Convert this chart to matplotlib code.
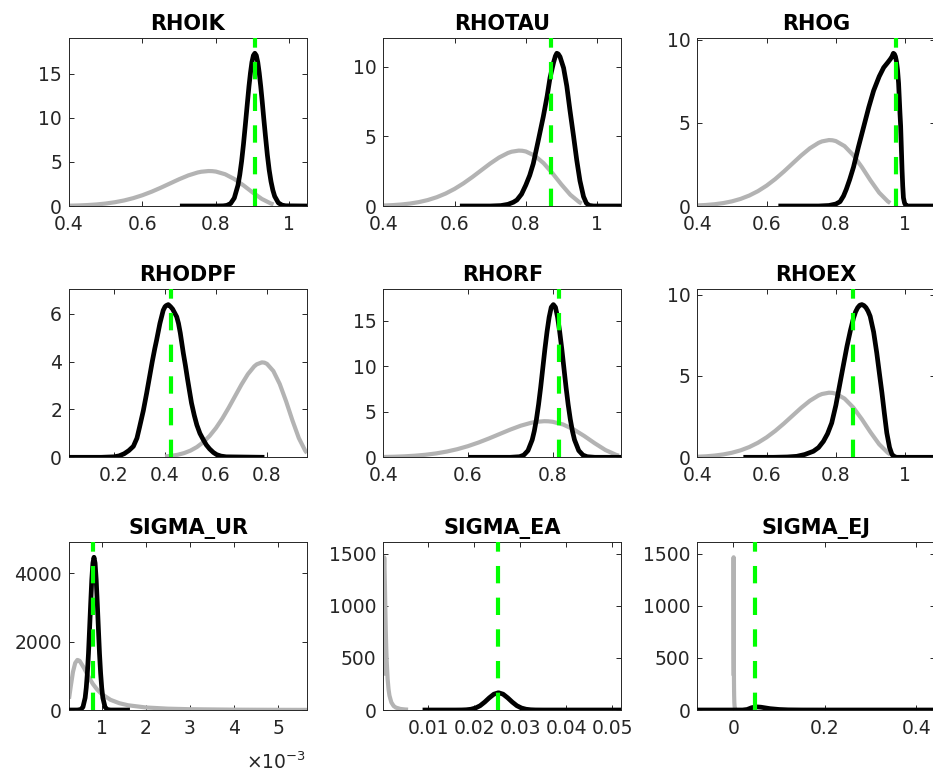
import matplotlib
matplotlib.use("Agg")
import matplotlib.pyplot as plt
from matplotlib.ticker import FuncFormatter

plt.rcParams['font.family'] = ['DejaVu Sans']
plt.rcParams['lines.scale_dashes'] = False

# ---------------- data ----------------
titles = ["RHOIK", "RHOTAU", "RHOG", "RHODPF", "RHORF", "RHOEX",
          "SIGMA_UR", "SIGMA_EA", "SIGMA_EJ"]

# common beta prior (rho parameters)
prior_rho_x = [0.40, 0.425, 0.45, 0.475, 0.50, 0.525, 0.55, 0.575, 0.60, 0.625, 0.65,
               0.675, 0.70, 0.725, 0.75, 0.76, 0.78, 0.79, 0.80, 0.825, 0.85, 0.875,
               0.90, 0.925, 0.95, 0.957]
prior_rho_y = [0.034, 0.061, 0.106, 0.176, 0.280, 0.428, 0.630, 0.894, 1.226, 1.624, 2.077,
               2.561, 3.044, 3.477, 3.804, 3.891, 3.972, 3.960, 3.910, 3.609, 3.068, 2.343,
               1.539, 0.802, 0.276, 0.180]

# common inverse-gamma prior (sigma parameters)
prior_sig_x = [0.26e-3, 0.30e-3, 0.35e-3, 0.40e-3, 0.45e-3, 0.50e-3, 0.60e-3, 0.70e-3,
               0.80e-3, 0.90e-3, 1.0e-3, 1.2e-3, 1.4e-3, 1.6e-3, 2.0e-3, 2.5e-3, 3.0e-3,
               4.0e-3, 5.0e-3, 5.65e-3]
prior_sig_y = [329, 693, 1116, 1375, 1466, 1440, 1229, 979, 764, 595, 468, 298, 199, 138,
               74, 39, 23, 9.8, 5.1, 3.5]

post_rhoik_x = [0.702, 0.80, 0.82, 0.83, 0.84, 0.85, 0.86, 0.865, 0.87, 0.875, 0.88, 0.885,
                0.89, 0.894, 0.898, 0.902, 0.906, 0.910, 0.914, 0.918, 0.922, 0.926, 0.93,
                0.935, 0.94, 0.945, 0.95, 0.955, 0.96, 0.97, 0.98, 0.99, 1.048]
post_rhoik_y = [0, 0, 0.016, 0.074, 0.28, 0.90, 2.35, 3.55, 5.10, 7.0, 9.16, 11.4,
                13.6, 15.1, 16.33, 17.1, 17.35, 17.1, 16.33, 15.1, 13.6, 11.9, 10.07,
                7.9, 5.82, 4.1, 2.78, 1.8, 1.10, 0.36, 0.098, 0.022, 0]

post_rhotau_x = [0.615, 0.70, 0.73, 0.75, 0.765, 0.775, 0.788, 0.80, 0.811, 0.821, 0.835,
                 0.849, 0.860, 0.868, 0.878, 0.883, 0.887, 0.891, 0.896, 0.906, 0.915,
                 0.924, 0.934, 0.943, 0.952, 0.962, 0.970, 0.978, 0.99, 1.068]
post_rhotau_y = [0, 0, 0.03, 0.12, 0.27, 0.43, 0.85, 1.5, 2.2, 3.04, 4.7, 6.4, 7.9, 9.2,
                 10.3, 10.75, 10.95, 10.9, 10.7, 9.9, 8.6, 6.84, 5.0, 3.28, 1.8, 0.67,
                 0.2, 0.04, 0, 0]

post_rhog_x = [0.634, 0.75, 0.78, 0.80, 0.812, 0.822, 0.83, 0.84, 0.851, 0.865, 0.880,
               0.895, 0.909, 0.925, 0.938, 0.950, 0.957, 0.962, 0.966, 0.969, 0.972,
               0.975, 0.978, 0.981, 0.983, 0.985, 0.987, 0.989, 0.991, 0.993, 0.995,
               0.998, 1.0, 1.005, 1.087]
post_rhog_y = [0, 0, 0.03, 0.12, 0.26, 0.6, 1.0, 1.6, 2.35, 3.55, 4.75, 5.95, 6.95, 7.8,
               8.34, 8.65, 8.84, 9.0, 9.2, 9.15, 9.0, 8.7, 8.2, 7.4, 6.5, 5.6, 4.8, 3.5,
               2.2, 1.2, 0.5, 0.2, 0.1, 0, 0]

post_rhodpf_x = [0.0235, 0.15, 0.20, 0.22, 0.24, 0.258, 0.276, 0.29, 0.30, 0.315, 0.328,
                 0.34, 0.35, 0.36, 0.367, 0.38, 0.393, 0.400, 0.405, 0.413, 0.422, 0.430,
                 0.435, 0.446, 0.453, 0.46, 0.472, 0.48, 0.488, 0.496, 0.504, 0.515,
                 0.525, 0.537, 0.55, 0.562, 0.575, 0.59, 0.603, 0.62, 0.64, 0.79]
post_rhodpf_y = [0, 0, 0.02, 0.06, 0.15, 0.28, 0.46, 0.8, 1.25, 1.95, 2.68, 3.4, 4.0,
                 4.55, 4.9, 5.6, 6.15, 6.3, 6.35, 6.39, 6.3, 6.2, 6.1, 5.88, 5.6, 5.2,
                 4.35, 3.85, 3.3, 2.78, 2.27, 1.75, 1.35, 1.0, 0.74, 0.52, 0.35, 0.2,
                 0.11, 0.05, 0.02, 0]

post_rhorf_x = [0.601, 0.70, 0.722, 0.732, 0.742, 0.752, 0.757, 0.762, 0.767, 0.772,
                0.777, 0.782, 0.787, 0.792, 0.797, 0.802, 0.807, 0.812, 0.817, 0.822,
                0.827, 0.832, 0.837, 0.842, 0.847, 0.852, 0.862, 0.872, 0.882, 0.90,
                0.9626]
post_rhorf_y = [0, 0, 0.065, 0.24, 0.74, 1.92, 2.9, 4.19, 5.8, 7.69, 9.8, 11.9, 13.8,
                15.4, 16.5, 16.8, 16.5, 15.4, 13.8, 11.9, 9.8, 7.69, 5.8, 4.19, 2.9,
                1.92, 0.74, 0.24, 0.065, 0, 0]

post_rhoex_x = [0.533, 0.62, 0.66, 0.687, 0.71, 0.735, 0.75, 0.764, 0.776, 0.788, 0.80,
                0.812, 0.822, 0.832, 0.842, 0.851, 0.857, 0.863, 0.869, 0.875, 0.881,
                0.887, 0.893, 0.899, 0.909, 0.918, 0.926, 0.933, 0.940, 0.947, 0.955,
                0.962, 0.97, 0.976, 1.087]
post_rhoex_y = [0, 0, 0.02, 0.06, 0.17, 0.37, 0.6, 0.98, 1.45, 2.11, 3.2, 4.57, 5.7, 6.82,
                7.8, 8.57, 8.95, 9.2, 9.35, 9.39, 9.33, 9.2, 8.98, 8.67, 7.7, 6.42, 5.1,
                3.96, 2.7, 1.5, 0.6, 0.17, 0.03, 0, 0]

post_ur_x = [0.26e-3, 0.45e-3, 0.526e-3, 0.576e-3, 0.626e-3, 0.651e-3, 0.676e-3,
             0.701e-3, 0.726e-3, 0.751e-3, 0.776e-3, 0.801e-3, 0.826e-3, 0.851e-3,
             0.876e-3, 0.901e-3, 0.926e-3, 0.951e-3, 0.976e-3, 1.001e-3, 1.026e-3,
             1.076e-3, 1.126e-3, 1.20e-3, 1.64e-3]
post_ur_y = [0, 0, 15, 86, 358, 653, 1080, 1650, 2378, 3120, 3818, 4300, 4471, 4300, 3818,
             3120, 2378, 1650, 1080, 653, 358, 86, 15, 0, 0]

post_ea_x = [0.0088, 0.016, 0.0173, 0.0183, 0.0193, 0.0203, 0.0213, 0.0223, 0.0233, 0.0243,
             0.0253, 0.0263, 0.0273, 0.0283, 0.0293, 0.0303, 0.0313, 0.0323, 0.0333,
             0.035, 0.052]
post_ea_y = [0, 0, 0.6, 2.4, 7.3, 19, 41, 76, 117, 152, 166, 152, 117, 76, 41, 19, 7.3,
             2.4, 0.6, 0, 0]

post_ej_x = [-0.079, 0.02, 0.03, 0.04, 0.05, 0.06, 0.07, 0.08, 0.10, 0.12, 0.15, 0.20, 0.4416]
post_ej_y = [0, 0, 5, 22, 30, 27, 20, 13, 5, 1.5, 0.2, 0, 0]

modes = [0.906, 0.871, 0.974, 0.4235, 0.815, 0.848, 0.80e-3, 0.0253, 0.0469]

priors = [(prior_rho_x, prior_rho_y)] * 6 + [(prior_sig_x, prior_sig_y)] * 3
posts = [(post_rhoik_x, post_rhoik_y), (post_rhotau_x, post_rhotau_y),
         (post_rhog_x, post_rhog_y), (post_rhodpf_x, post_rhodpf_y),
         (post_rhorf_x, post_rhorf_y), (post_rhoex_x, post_rhoex_y),
         (post_ur_x, post_ur_y), (post_ea_x, post_ea_y), (post_ej_x, post_ej_y)]

xticks = [[0.4, 0.6, 0.8, 1], [0.4, 0.6, 0.8, 1], [0.4, 0.6, 0.8, 1],
          [0.2, 0.4, 0.6, 0.8], [0.4, 0.6, 0.8], [0.4, 0.6, 0.8, 1],
          [1e-3, 2e-3, 3e-3, 4e-3, 5e-3], [0.01, 0.02, 0.03, 0.04, 0.05], [0, 0.2, 0.4]]
yticks = [[0, 5, 10, 15], [0, 5, 10], [0, 5, 10], [0, 2, 4, 6], [0, 5, 10, 15],
          [0, 5, 10], [0, 2000, 4000], [0, 500, 1000, 1500], [0, 500, 1000, 1500]]
ur_labels = ['1', '2', '3', '4', '5']
ur_exponent = r'$\times\mathdefault{10^{-3}}$'

# ---------------- layout ----------------
W, H = 933, 781
fig = plt.figure(figsize=(W / 100, H / 100), dpi=100)
col_left = [69, 383.3, 697.3]
row_top = [38, 289.3, 542]
aw, ah = 238, 168

txt_col = '#262626'
for i in range(9):
    r, c = divmod(i, 3)
    ax = fig.add_axes([col_left[c] / W, 1 - (row_top[r] + ah) / H, aw / W, ah / H])
    px, py = priors[i]
    qx, qy = posts[i]
    ax.plot(px, py, color='#b3b3b3', lw=3.0, solid_joinstyle='round',
            solid_capstyle='butt', zorder=2)
    ax.plot(qx, qy, color='black', lw=3.4, solid_joinstyle='round',
            solid_capstyle='butt', zorder=3)
    ymax = 1.1 * max(max(py), max(qy))
    ax.plot([modes[i], modes[i]], [0, ymax], color='#00ff00', lw=3.0,
            dashes=(12.5, 10.3), zorder=4)
    ax.set_xlim(min(min(px), min(qx)), max(max(px), max(qx)))
    ax.set_ylim(0, ymax)
    ax.set_xticks(xticks[i])
    ax.set_yticks(yticks[i])
    if i == 6:
        ax.set_xticklabels(ur_labels)
        ax.text(0.995, -0.245, ur_exponent, transform=ax.transAxes, ha='right',
                va='top', fontsize=13.5, color=txt_col)
    else:
        ax.xaxis.set_major_formatter(FuncFormatter(lambda v, p: f'{v:g}'))
    ax.yaxis.set_major_formatter(FuncFormatter(lambda v, p: f'{v:g}'))
    ax.tick_params(direction='in', length=3.5, width=0.7, top=True, right=True,
                   labelsize=13.5, colors=txt_col, pad=5)
    ax.tick_params(axis='x', pad=6.5)
    for s in ax.spines.values():
        s.set_color(txt_col)
        s.set_linewidth(0.7)
    ax.set_title(titles[i], fontsize=15, fontweight='bold', pad=6)

fig.savefig('out.png', dpi=100)
